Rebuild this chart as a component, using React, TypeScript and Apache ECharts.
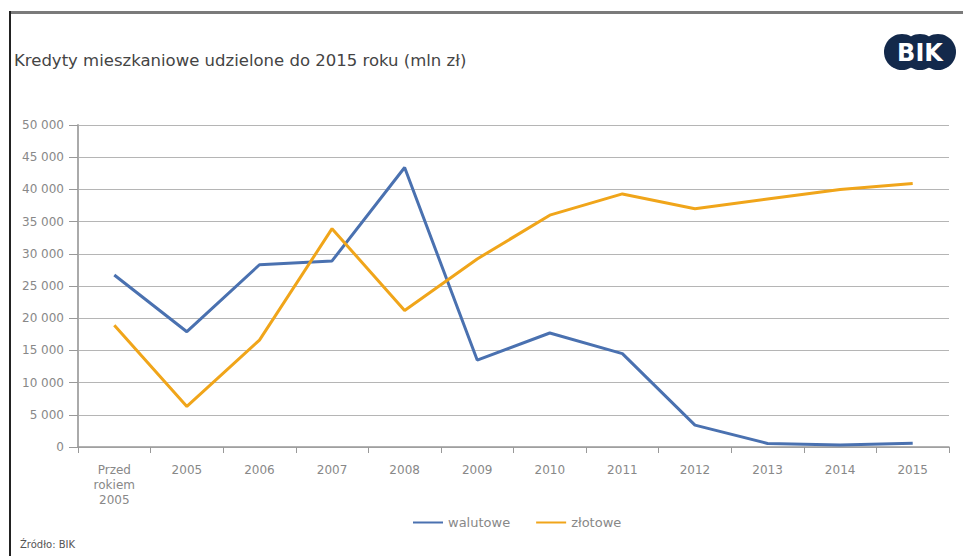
import React, { useEffect, useRef } from "react";
import * as echarts from "echarts";

const categories = ["Przed\nrokiem\n2005", "2005", "2006", "2007", "2008", "2009", "2010", "2011", "2012", "2013", "2014", "2015"];
const walutowe = [26700, 17900, 28300, 28900, 43400, 13500, 17700, 14500, 3400, 550, 300, 600];
const zlotowe = [18900, 6300, 16600, 33900, 21200, 29200, 36000, 39300, 37000, 38500, 40000, 40900];
const seriesNames = ["walutowe", "złotowe"];
const title = "Kredyty mieszkaniowe udzielone do 2015 roku (mln zł)";
const source = "Źródło: BIK";

const FONT = "DejaVu Sans";

export default function App() {
  const ref = useRef<HTMLDivElement>(null);
  useEffect(() => {
    document.body.style.margin = "0";
    const chart = echarts.init(ref.current!, null, { renderer: "svg" });
    chart.setOption({
      animation: false,
      backgroundColor: "#ffffff",
      textStyle: { fontFamily: FONT },
      grid: { left: 78, right: 14, top: 125, bottom: 109 },
      legend: {
        bottom: 22,
        left: 408,
        itemWidth: 30,
        itemHeight: 10,
        itemGap: 26,
        icon: "path://M0,4 L30,4 L30,6 L0,6 Z",
        textStyle: { color: "#888", fontSize: 13, fontFamily: FONT },
        data: seriesNames,
      },
      xAxis: {
        type: "category",
        data: categories,
        boundaryGap: true,
        axisLine: { show: true, lineStyle: { color: "#999", width: 1.5 } },
        axisTick: { show: true, length: 6, lineStyle: { color: "#999" } },
        axisLabel: { color: "#888", fontSize: 12, lineHeight: 15, margin: 15, interval: 0 },
      },
      yAxis: {
        type: "value",
        min: 0,
        max: 50000,
        interval: 5000,
        axisLine: { show: true, lineStyle: { color: "#aaa", width: 2 } },
        axisTick: { show: true, inside: false, length: 9, lineStyle: { color: "#999" } },
        splitLine: { lineStyle: { color: "#b5b5b5", width: 1.2 } },
        axisLabel: {
          color: "#888",
          fontSize: 12,
          margin: 14,
          formatter: (v: number) => (v >= 1000 ? `${Math.floor(v / 1000)} ${String(v % 1000).padStart(3, "0")}` : String(v)),
        },
      },
      series: [
        {
          name: seriesNames[0],
          type: "line",
          data: walutowe,
          symbol: "none",
          lineStyle: { color: "#4a71b0", width: 3 },
          itemStyle: { color: "#4a71b0" },
        },
        {
          name: seriesNames[1],
          type: "line",
          data: zlotowe,
          symbol: "none",
          lineStyle: { color: "#f0a51a", width: 3 },
          itemStyle: { color: "#f0a51a" },
        },
      ],
      graphic: [
        { type: "rect", shape: { x: 10, y: 11, width: 953, height: 3 }, style: { fill: "#7a7a7a" } },
        { type: "rect", shape: { x: 9, y: 11, width: 2, height: 545 }, style: { fill: "#222" } },
        {
          type: "text",
          left: 14,
          top: 52,
          style: { text: title, fill: "#444", fontSize: 16.5, fontFamily: FONT },
        },
        {
          type: "text",
          left: 20,
          top: 539,
          style: { text: source, fill: "#555", fontSize: 10, fontFamily: FONT },
        },
        {
          type: "group",
          children: [
            { type: "circle", shape: { cx: 902, cy: 52, r: 18 }, style: { fill: "#13294b" } },
            { type: "circle", shape: { cx: 920, cy: 52, r: 18 }, style: { fill: "#13294b" } },
            { type: "circle", shape: { cx: 938, cy: 52, r: 18 }, style: { fill: "#13294b" } },
            {
              type: "text",
              x: 920,
              y: 53,
              style: {
                text: "BIK",
                fill: "#ffffff",
                fontSize: 24,
                fontWeight: "bold",
                fontFamily: "DejaVu Sans",
                align: "center",
                verticalAlign: "middle",
              },
            },
          ],
        },
      ],
    });
    return () => chart.dispose();
  }, []);
  return <div ref={ref} style={{ width: 963, height: 556 }} />;
}
